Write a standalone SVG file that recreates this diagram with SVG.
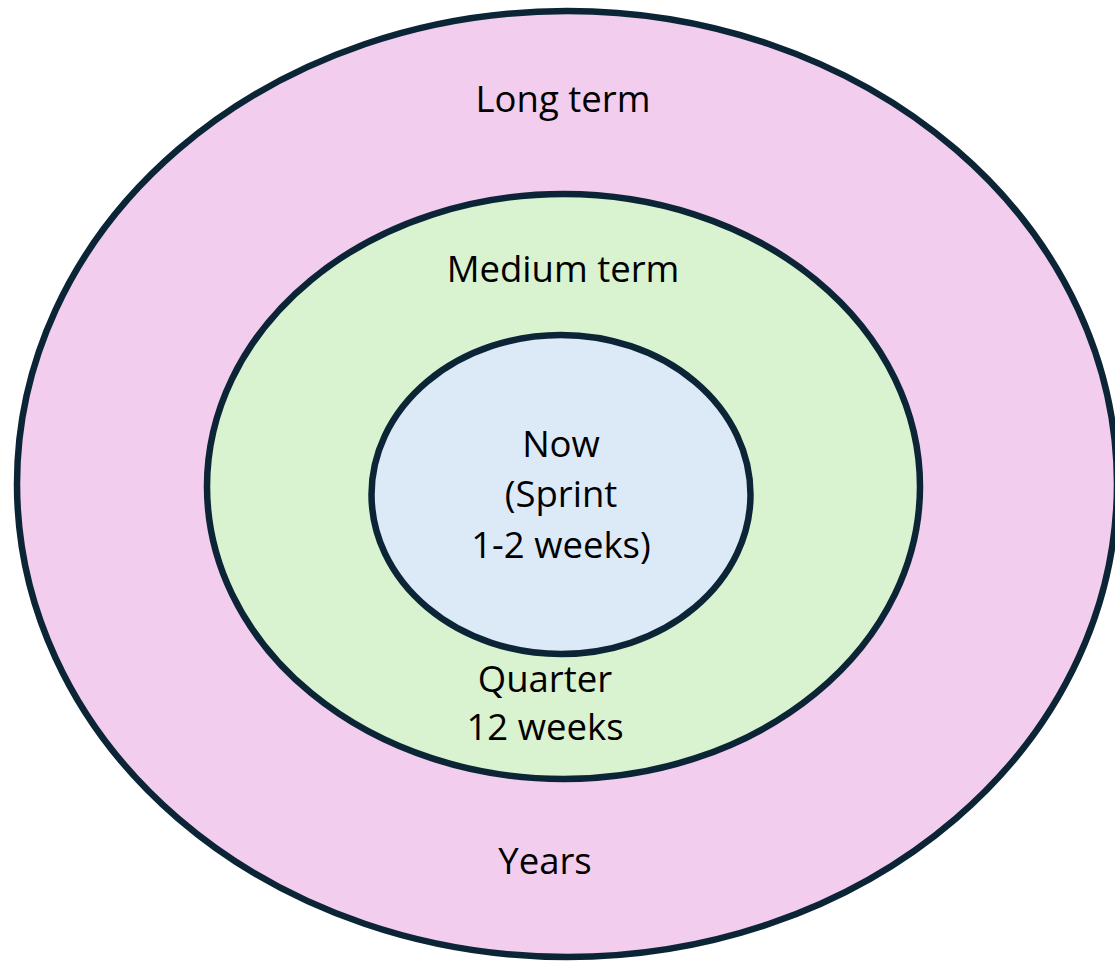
<svg xmlns="http://www.w3.org/2000/svg" width="1115" height="961" viewBox="0 0 1115 961">
  <style>
    .ring { stroke: #0b2536; stroke-width: 6.5; }
    .label { font-family: "Open Sans", "Noto Sans", sans-serif; font-size: 36.5px; fill: #000; text-anchor: middle; }
  </style>
  <rect width="1115" height="961" fill="#ffffff"/>

  <!-- Long term horizon -->
  <g id="long-term">
    <ellipse class="ring" cx="567" cy="484" rx="550" ry="473" fill="#f2cdee"/>
    <text class="label" x="563" y="112">Long term</text>
    <text class="label" x="545" y="874">Years</text>
  </g>

  <!-- Medium term horizon -->
  <g id="medium-term">
    <ellipse class="ring" cx="563.5" cy="486.5" rx="356.5" ry="292.5" fill="#d9f2d0"/>
    <text class="label" x="563" y="282">Medium term</text>
    <text class="label" x="545" y="692">Quarter</text>
    <text class="label" x="545" y="740">12 weeks</text>
  </g>

  <!-- Current sprint -->
  <g id="now">
    <ellipse class="ring" cx="561" cy="494.5" rx="189.5" ry="159.5" fill="#dce9f7"/>
    <text class="label" x="561" y="457">Now</text>
    <text class="label" x="561" y="507">(Sprint</text>
    <text class="label" x="561" y="558">1-2 weeks)</text>
  </g>

  <g id="connectors"/>
</svg>
